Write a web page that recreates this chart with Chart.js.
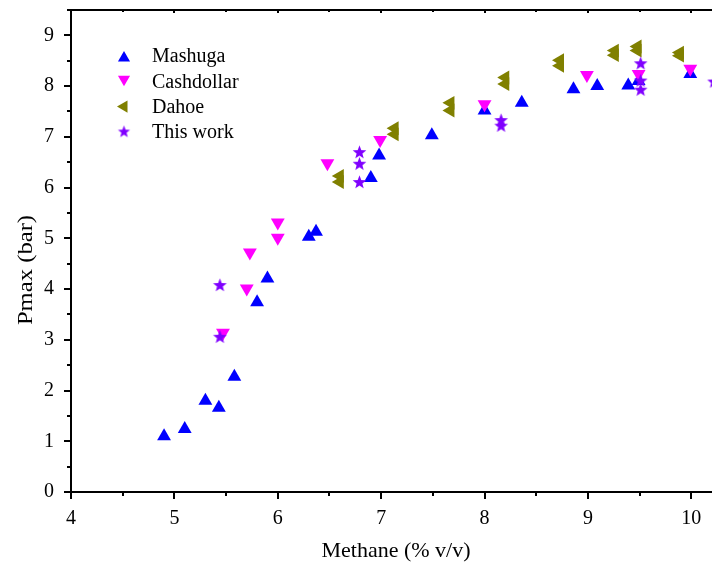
<!DOCTYPE html>
<html><head><meta charset="utf-8">
<script src="https://cdn.jsdelivr.net/npm/chart.js@4/dist/chart.umd.min.js"></script>
<style>
html,body{margin:0;padding:0;background:#fff;overflow:hidden;width:712px;height:565px;}
canvas{display:block;}
</style></head><body>
<canvas id="c" width="712" height="565" style="width:712px;height:565px"></canvas>
<script>
// ---- data ----
const mashugaX = [4.90, 5.10, 5.30, 5.43, 5.58, 5.80, 5.90, 6.30, 6.37, 6.90, 6.98, 7.49, 8.00, 8.36, 8.86, 9.09, 9.39, 9.49, 9.99];
const mashugaY = [1.10, 1.24, 1.80, 1.66, 2.27, 3.74, 4.21, 5.03, 5.13, 6.19, 6.63, 7.03, 7.52, 7.67, 7.94, 8.00, 8.01, 8.10, 8.24];

const cashX = [5.47, 5.70, 5.73, 6.00, 6.00, 6.48, 6.99, 8.00, 8.99, 9.49, 9.99];
const cashY = [3.14, 4.01, 4.72, 5.01, 5.31, 6.48, 6.94, 7.64, 8.22, 8.24, 8.34];

const dahoeX = [6.60, 6.60, 7.13, 7.13, 7.67, 7.67, 8.20, 8.20, 8.73, 8.73, 9.26, 9.26, 9.48, 9.48, 9.89, 9.89];
const dahoeY = [6.23, 6.11, 7.17, 7.05, 7.67, 7.52, 8.17, 8.04, 8.51, 8.40, 8.70, 8.61, 8.78, 8.70, 8.66, 8.60];

const thisX = [5.44, 5.44, 6.79, 6.79, 6.79, 8.16, 8.16, 9.51, 9.51, 9.51, 10.22, 10.22];
const thisY = [4.07, 3.05, 6.69, 6.46, 6.10, 7.32, 7.21, 8.44, 8.10, 7.92, 8.08, 7.90];

const seriesNames = ['Mashuga', 'Cashdollar', 'Dahoe', 'This work'];
const xTickLabels = [4, 5, 6, 7, 8, 9, 10];
const yTickLabels = [0, 1, 2, 3, 4, 5, 6, 7, 8, 9];
const xTitle = 'Methane (% v/v)';
const yTitle = 'Pmax (bar)';

// ---- styling ----
const FONT = '"Liberation Serif", "Times New Roman", serif';
const zip = (xs, ys) => xs.map((v, i) => ({x: v, y: ys[i]}));

function starCanvas(R, color) {
  const s = Math.ceil(R * 2 + 2);
  const c = document.createElement('canvas');
  c.width = s; c.height = s;
  const g = c.getContext('2d');
  const cx = s / 2, cy = s / 2, r = R * 0.42;
  g.beginPath();
  for (let i = 0; i < 10; i++) {
    const rr = i % 2 === 0 ? R : r;
    const a = -Math.PI / 2 + i * Math.PI / 5;
    const px = cx + rr * Math.cos(a), py = cy + rr * Math.sin(a);
    i === 0 ? g.moveTo(px, py) : g.lineTo(px, py);
  }
  g.closePath();
  g.fillStyle = color;
  g.fill();
  return c;
}
const PURPLE = '#8000ff';
const starBig = starCanvas(7.2, PURPLE);
const starSmall = starCanvas(6.4, PURPLE);

function halfSteps(a, b) { const out = []; for (let v = a; v <= b + 1e-9; v += 0.5) out.push(Math.round(v * 10) / 10); return out; }
const xTickVals = halfSteps(xTickLabels[0], xTickLabels[xTickLabels.length - 1]);
const yTickVals = halfSteps(yTickLabels[0], yTickLabels[yTickLabels.length - 1] + 0.5);

const datasets = [
  {label: seriesNames[0], data: zip(mashugaX, mashugaY), pointStyle: 'triangle', rotation: 0,
   backgroundColor: '#0000ff', borderColor: '#0000ff', borderWidth: 0, pointRadius: 8, order: 3},
  {label: seriesNames[1], data: zip(cashX, cashY), pointStyle: 'triangle', rotation: 180,
   backgroundColor: '#ff00ff', borderColor: '#ff00ff', borderWidth: 0, pointRadius: 8, order: 2},
  {label: seriesNames[2], data: zip(dahoeX, dahoeY), pointStyle: 'triangle', rotation: -90,
   backgroundColor: '#808000', borderColor: '#808000', borderWidth: 0, pointRadius: 8, order: 1},
  {label: seriesNames[3], data: zip(thisX, thisY), pointStyle: starBig, rotation: 0,
   backgroundColor: PURPLE, borderColor: PURPLE, borderWidth: 0, pointRadius: 7, order: 0},
];

const decor = {
  id: 'decor',
  afterDraw(chart) {
    const {ctx, chartArea: a, scales: {x, y}} = chart;
    ctx.save();
    ctx.strokeStyle = '#000';
    ctx.lineWidth = 2;
    ctx.lineCap = 'butt';
    ctx.beginPath();
    // axis lines
    ctx.moveTo(a.left, a.top - 1); ctx.lineTo(a.left, a.bottom + 1);
    ctx.moveTo(a.left - 1, a.bottom); ctx.lineTo(a.right, a.bottom);
    ctx.moveTo(a.left - 1, a.top); ctx.lineTo(a.right, a.top);
    // x ticks (outward) and top ticks (inward)
    xTickVals.forEach(v => {
      const px = Math.round(x.getPixelForValue(v));
      const major = Number.isInteger(v);
      ctx.moveTo(px, a.bottom); ctx.lineTo(px, a.bottom + (major ? 7 : 4));
      if (v !== xTickVals[0]) { ctx.moveTo(px, a.top); ctx.lineTo(px, a.top + (major ? 3 : 2)); }
    });
    // y ticks (outward)
    yTickVals.forEach(v => {
      if (v > y.max) return;
      const py = Math.round(y.getPixelForValue(v));
      const major = Number.isInteger(v);
      ctx.moveTo(a.left, py); ctx.lineTo(a.left - (major ? 7 : 4), py);
    });
    ctx.stroke();

    ctx.fillStyle = '#000';
    // x axis title
    ctx.font = '22px ' + FONT;
    ctx.textAlign = 'center';
    ctx.textBaseline = 'alphabetic';
    ctx.fillText(xTitle, 396, 557);

    // y axis title
    ctx.save();
    ctx.translate(26, 270);
    ctx.rotate(-Math.PI / 2);
    ctx.scale(1.12, 1);
    ctx.font = '22px ' + FONT;
    ctx.textAlign = 'center';
    ctx.textBaseline = 'middle';
    ctx.fillText(yTitle, 0, 0);
    ctx.restore();

    // legend
    const lx = 124, ly0 = 56, dy = 25.3;
    chart.data.datasets.forEach((ds, i) => {
      const cy = ly0 + i * dy;
      ctx.fillStyle = ds.backgroundColor;
      ctx.strokeStyle = ds.borderColor;
      ctx.lineWidth = 0;
      const style = ds.pointStyle === starBig ? starSmall : ds.pointStyle;
      Chart.helpers.drawPoint(ctx, {pointStyle: style, rotation: ds.rotation, radius: 7, borderWidth: 0}, lx, cy + (ds.rotation === 0 && style === 'triangle' ? 2 : (ds.rotation === 180 ? -2 : 0)));
      ctx.fillStyle = '#000';
      ctx.font = '20px ' + FONT;
      ctx.textAlign = 'left';
      ctx.textBaseline = 'middle';
      ctx.fillText(ds.label, 152, cy + 1);
    });
    ctx.restore();
  }
};

new Chart(document.getElementById('c'), {
  type: 'scatter',
  data: {datasets},
  options: {
    responsive: false,
    animation: false,
    devicePixelRatio: 1,
    events: [],
    layout: {autoPadding: false, padding: {top: 10, right: 0, left: 0, bottom: 0}},
    plugins: {legend: {display: false}, tooltip: {enabled: false}},
    scales: {
      x: {
        type: 'linear', min: 4, max: 10.2,
        afterFit(s) { s.height = 73; s.paddingLeft = 0; s.paddingRight = 0; s.paddingTop = 0; s.paddingBottom = 0; },
        afterBuildTicks(s) { s.ticks = xTickVals.map(v => ({value: v})); },
        grid: {display: false},
        border: {display: false},
        ticks: {
          autoSkip: false, maxRotation: 0, padding: 7, color: '#000',
          font: {family: FONT, size: 20},
          callback: v => xTickLabels.includes(v) ? String(v) : ''
        },
        title: {display: false}
      },
      y: {
        type: 'linear', min: 0, max: 9.5,
        afterFit(s) { s.width = 71; s.paddingLeft = 0; s.paddingRight = 0; s.paddingTop = 0; s.paddingBottom = 0; },
        afterBuildTicks(s) { s.ticks = yTickVals.filter(v => v <= 9.5).map(v => ({value: v})); },
        grid: {display: false},
        border: {display: false},
        ticks: {
          autoSkip: false, padding: 9, color: '#000',
          font: {family: FONT, size: 20},
          callback: v => yTickLabels.includes(v) ? String(v) : ''
        }
      }
    }
  },
  plugins: [decor]
});
</script>
</body></html>
